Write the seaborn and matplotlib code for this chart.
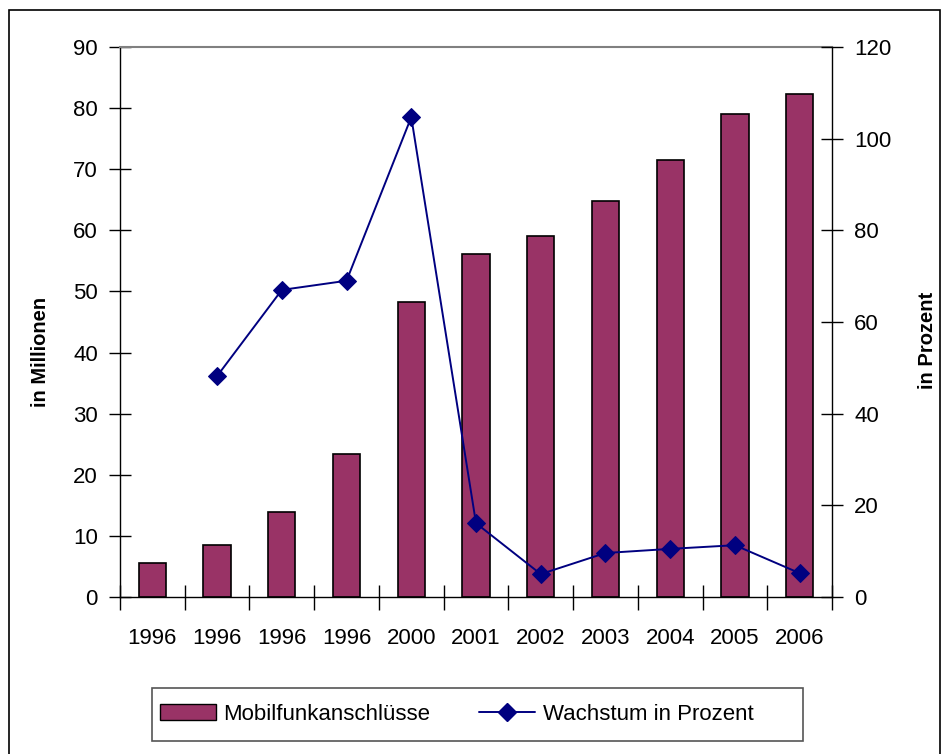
import matplotlib
matplotlib.use("Agg")
import matplotlib.pyplot as plt
import matplotlib.patches as mpatches
from matplotlib.lines import Line2D
import seaborn as sns
import pandas as pd
import numpy as np

# ---- data ----
years = ["1996", "1996", "1996", "1996", "2000", "2001", "2002", "2003", "2004", "2005", "2006"]
anschluesse = [5.6, 8.5, 13.9, 23.4, 48.3, 56.1, 59.1, 64.8, 71.5, 79.0, 82.3]
wachstum_pos = [1, 2, 3, 4, 5, 6, 7, 8, 9, 10]
wachstum = [48.2, 67.0, 69.0, 104.7, 16.1, 5.0, 9.6, 10.5, 11.3, 5.2]

bar_color = "#993366"
line_color = "#000080"

sns.set_theme(style="white")
plt.rcParams["font.family"] = ["Liberation Sans", "DejaVu Sans"]
plt.rcParams["text.color"] = "black"
plt.rcParams["xtick.color"] = "black"
plt.rcParams["ytick.color"] = "black"
plt.rcParams["axes.labelcolor"] = "black"

W, H = 944, 754
fig = plt.figure(figsize=(W / 100, H / 100), dpi=100)
ax = fig.add_axes([120 / W, 1 - 597 / H, (832 - 120) / W, (597 - 47) / H])

df_bar = pd.DataFrame({"idx": list(range(len(years))), "val": anschluesse})
sns.barplot(data=df_bar, x="idx", y="val", color=bar_color, edgecolor="black",
            linewidth=1.2, width=0.42, saturation=1, ax=ax)
ax.set_xlim(-0.5, len(years) - 0.5)
ax.set_ylim(0, 90)
ax.set_yticks(np.arange(0, 91, 10))
ax.set_xticks(range(len(years)))
ax.set_xticklabels(years)
ax.set_xticks(np.arange(-0.5, len(years), 1.0), minor=True)
ax.tick_params(axis="x", which="major", length=0, pad=22, labelsize=16, labelcolor="black",
               bottom=True)
ax.tick_params(axis="x", which="minor", length=18, direction="inout", width=1,
               color="black", bottom=True)
ax.tick_params(axis="y", which="major", length=16, direction="inout", width=1, pad=8,
               labelsize=16, color="black", labelcolor="black", left=True)
ax.set_xlabel("")
ax.set_ylabel("in Millionen", fontsize=14.5, fontweight="bold", color="black")
ax.yaxis.set_label_coords(-(120 - 50) / (832 - 120), (597 - 352) / 550)

for s in ["left", "bottom", "right"]:
    ax.spines[s].set_color("black")
    ax.spines[s].set_linewidth(1)
ax.spines["top"].set_color("#808080")
ax.spines["top"].set_linewidth(1.5)

ax2 = ax.twinx()
df_line = pd.DataFrame({"pos": wachstum_pos, "w": wachstum})
sns.lineplot(data=df_line, x="pos", y="w", color=line_color, marker="D", markersize=9,
             markeredgecolor=line_color, linewidth=1.4, ax=ax2)
ax2.set_ylim(0, 120)
ax2.set_xlim(-0.5, len(years) - 0.5)
ax2.set_yticks(np.arange(0, 121, 20))
ax2.tick_params(axis="y", which="major", length=16, direction="inout", width=1, pad=8,
                labelsize=16, color="black", labelcolor="black", right=True)
ax2.set_xlabel("")
ax2.set_ylabel("in Prozent", fontsize=14.5, fontweight="bold", rotation=90, color="black")
ax2.yaxis.set_label_coords(1 + (918 - 832) / (832 - 120), (597 - 340) / 550)
for s in ax2.spines.values():
    s.set_visible(False)

# legend
handles = [mpatches.Patch(facecolor=bar_color, edgecolor="black", linewidth=1),
           Line2D([], [], color=line_color, marker="D", markersize=9, linewidth=1.4)]
fig.legend(handles, ["Mobilfunkanschlüsse", "Wachstum in Prozent"], ncol=2,
           loc="center left", bbox_to_anchor=(160 / W, 1 - 714 / H), frameon=False,
           fontsize=16, handlelength=2.5, handletextpad=0.35, columnspacing=2.2,
           borderpad=0, borderaxespad=0, labelcolor="black")
fig.patches.append(mpatches.Rectangle((152 / W, 1 - 741 / H), (803 - 152) / W, 53 / H,
                                      transform=fig.transFigure, fill=False,
                                      edgecolor="#555555", linewidth=1.2))
# outer border
fig.patches.append(mpatches.Rectangle((9 / W, -0.05), (940 - 9) / W, 1.05 - 10 / H,
                                      transform=fig.transFigure, fill=False,
                                      edgecolor="black", linewidth=1.2))

fig.savefig("out.png", dpi=100)
